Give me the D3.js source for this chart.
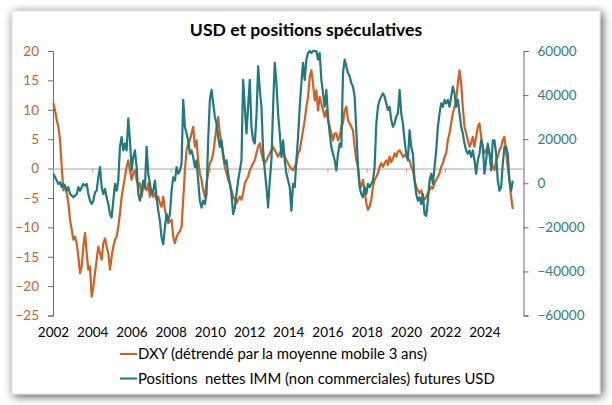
<!DOCTYPE html>
<html lang="fr">
<head>
<meta charset="UTF-8">
<title>USD et positions spéculatives</title>
<script src="https://d3js.org/d3.v7.min.js"></script>
<style>
  body { margin: 0; background: #fff; font-family: Lato, "Open Sans", sans-serif; }
  svg { display: block; }
  .legend text { white-space: pre; }
</style>
</head>
<body>
<svg id="chart" width="612" height="405"></svg>
<script>
// sampling grid of the series (about one point per month)
const startYear = 2002.02;
const stepYear = 0.0849;

// DXY detrended by its 3-year moving average (left axis)
const dxy = [
  11.1, 9.9, 8.2, 7.1, 4.8, 0.3, -3.7, -3.1, -4.2, -5.9,
  -8.7, -10.4, -12.1, -11.6, -12.7, -15.0, -17.8, -16.7, -13.3, -11.0,
  -14.4, -17.2, -16.7, -21.8, -20.1, -17.8, -15.5, -13.3, -14.4, -15.5,
  -12.7, -11.9, -13.3, -14.4, -17.2, -15.0, -13.3, -12.1, -11.6, -9.9,
  -7.6, -4.8, -3.1, -1.4, 0.3, 1.4, -0.3, -1.9, -0.8, -0.3,
  -1.9, -3.1, -2.5, -4.8, -3.1, -3.4, -3.7, -2.5, -4.8, -3.7,
  -4.8, -4.2, -5.3, -4.8, -5.9, -6.5, -4.8, -7.0, -8.2, -9.3,
  -9.0, -8.7, -11.6, -12.7, -11.6, -11.0, -10.7, -9.9, -5.3, -0.3,
  3.1, 4.3, 4.8, 6.0, 7.1, 3.7, 4.8, 1.4, -0.8,
  -1.9, -3.7, -4.8, -2.5, -0.8, 0.9, 1.4, 2.6, 4.8, 7.1,
  8.8, 6.0, 4.3, 2.0, 0.3, -0.8, -1.9, -2.5, -3.7, -4.8,
  -5.3, -5.9, -5.3, -4.8, -5.3, -4.2, -2.5, -1.9, -1.4, -0.3,
  0.3, 0.9, 1.4, 2.6, 3.7, 4.3, 2.6, 1.4, 0.9, 1.4,
  2.0, 2.6, 3.1, 3.7, 3.1, 2.6, 2.0, 2.6, 3.1, 2.6,
  2.0, 1.4, 0.9, 0.3, 0.0, -0.3, 0.3, 0.9, 2.6, 3.1,
  4.8, 6.5, 8.2, 10.5, 12.2, 15.6, 16.7, 14.5, 11.6, 13.3, 9.9,
  12.2, 11.1, 9.9, 8.8, 9.9, 8.2, 7.1, 6.0, 4.8, 6.0,
  6.0, 4.8, 5.4, 7.1, 7.7, 9.9, 10.5, 8.2, 7.7, 7.1,
  6.5, 3.7, 1.4, 0.3, -2.5, -3.1, -1.9, -3.7, -5.9, -7.0,
  -6.5, -5.3, -3.1, -1.9, -1.4, -0.8, 0.3, 0.9, 0.3, 0.9,
  1.4, 0.6, 2.0, 1.1, 1.7, 2.6, 2.0, 2.9, 3.1, 2.6,
  2.0, 2.3, 2.0, 1.7, 1.4, 0.3, -0.3, -1.9, -3.1, -3.7,
  -4.2, -3.7, -4.8, -5.3, -4.8, -4.2, -3.7, -3.1, -3.4, -2.5,
  -1.9, -1.4, -0.8, 0.3, 0.9, 2.0, 2.6, 4.8, 6.0, 7.7,
  9.4, 10.5, 11.6, 14.5, 16.7, 14.5, 10.5, 7.1, 6.0, 4.8,
  3.7, 4.3, 5.4, 3.7, 5.4, 7.1, 7.7, 5.4, 3.7, 2.6,
  3.1, 3.7, 2.6, 1.4, 0.3, -0.3, 1.4, 2.0, 3.1, 3.7,
  4.8, 5.4, 2.6, 0.3, -1.9, -4.8, -6.9
];

// IMM net non-commercial positions, USD futures (right axis)
const imm = [
  4300, 2700, 1200, -300, 500, -1800, -300, -1100, -3400, -1800,
  -4900, -5600, -6400, -5600, -4900, -1800, -3400, -1800, -300, -1100,
  -300, -4900, -7900, -9400, -7900, -4100, -3400, 2700, 7300, -1800,
  -4900, -2600, -6400, -9400, -14000, -15500, -7900, -300, -3400, 1200,
  16500, 21000, 14900, 18000, 14900, 29400, 19500, 5800, 11900, 14900,
  7300, -4900, -7900, -3400, 1200, -1800, 16500, 4300, -300, -4900,
  -3400, 1200, -6400, -12500, -17100, -24700, -27700, -20100, -14000, -17100,
  -14000, -3400, 2700, 1200, 7300, 4300, 5800, 8800, 37800, 25600,
  22600, 19500, 13400, 14900, 11900, 7300, 10400, 1200, -7900,
  -11000, -7900, -9400, -4900, 19500, 37800, 42400, 36300, 30200, 27100,
  21000, 16500, 19500, 13400, 8800, 10400, 4300, -300, -4900, -14000,
  -11000, -4900, 1200, 5800, 10400, 46900, 34700, 22600, 34700, 46900,
  25600, 19500, 18000, 30200, 53000, 42400, 34700, 14900, 5800, -1800,
  -11000, 1200, 10400, 34700, 54600, 45400, 31700, 22600, 11900, 19500,
  10400, 4300, 1200, -1800, -12500, -300, -1800, 10400, 21000, 34700,
  45400, 54600, 46900, 56100, 59100, 60000, 59100, 60000, 60000, 60000, 56100,
  59100, 46900, 40800, 34700, 42400, 30200, 22600, 16500, 13400, 10400,
  5800, 13400, 18000, 16500, 50000, 56100, 53000, 50000, 48500, 45400,
  43900, 39300, 24100, 7300, -1800, -4900, -6400, -1800, -4900, -300,
  -1800, -300, 1200, 7300, 27100, 34700, 37800, 39300, 40800, 39300,
  36300, 33200, 34700, 28700, 25600, 27100, 30200, 31700, 42400, 31700,
  27100, 19500, 13400, 10400, 24100, 16500, 13400, 1200, -4900, -7900,
  -6400, -9400, -4900, -14000, -14800, -7900, 1200, 4300, -300, 7300,
  14900, 25600, 31700, 36300, 34700, 37800, 36300, 37800, 34700, 39300,
  43900, 40800, 34700, 37800, 31700, 25600, 22600, 18000, 14900, 13400,
  14900, 11900, 14900, 10400, 4300, 10400, 13400, 19500, 16500, 4300,
  10400, 18000, 13400, 5800, 19500, 19500, 13400, 1200, -3400, -1800,
  8800, 16500, 16500, 13400, 1200, -3400, 1200
];

const xTicks = d3.range(2002, 2027, 2);          // 2002 ... 2026
const xLabels = d3.range(2002, 2025, 2);         // 2002 ... 2024
const leftTicks = [-25, -20, -15, -10, -5, 0, 5, 10, 15, 20];
const rightTicks = [-60000, -40000, -20000, 0, 20000, 40000, 60000];
const seriesNames = ["DXY (détrendé par la moyenne mobile 3 ans)",
                     "Positions  nettes IMM (non commerciales) futures USD"];

const orange = "#d2601f";
const teal = "#1c7a80";

const svg = d3.select("#chart");

// frame with shadow
const defs = svg.append("defs");
const f = defs.append("filter").attr("id", "shadow")
  .attr("x", "-5%").attr("y", "-5%").attr("width", "110%").attr("height", "110%");
f.append("feDropShadow").attr("dx", 2).attr("dy", 2)
  .attr("stdDeviation", 5).attr("flood-color", "#000").attr("flood-opacity", 0.7);

svg.append("rect").attr("x", 12).attr("y", 11).attr("width", 588).attr("height", 383)
  .attr("fill", "#fff").attr("stroke", "#d9d9d9").attr("stroke-width", 0.8)
  .attr("filter", "url(#shadow)");

// title
svg.append("text").attr("x", 306).attr("y", 36)
  .attr("text-anchor", "middle").attr("font-weight", "bold")
  .attr("font-size", 17.6).attr("fill", "#000")
  .text("USD et positions spéculatives");

// scales
const plotLeft = 53, plotRight = 523.5, plotTop = 51, plotBottom = 315.5;
const x = d3.scaleLinear().domain([2002, 2026]).range([plotLeft, plotRight]);
const yL = d3.scaleLinear().domain([-25, 20]).range([plotBottom, plotTop]);
const yR = d3.scaleLinear().domain([-60000, 60000]).range([plotBottom, plotTop]);

// left axis
const gl = svg.append("g").attr("transform", `translate(${plotLeft},0)`)
  .call(d3.axisLeft(yL).tickValues(leftTicks).tickSize(5).tickPadding(9).tickSizeOuter(5));
gl.selectAll("path, line").attr("stroke", "#6b6b6b");
gl.selectAll("text").attr("fill", "#c8632e").attr("font-size", 13.5)
  .attr("font-family", "Lato, sans-serif");

// right axis
const gr = svg.append("g").attr("transform", `translate(${plotRight},0)`)
  .call(d3.axisRight(yR).tickValues(rightTicks).tickSize(5).tickPadding(9).tickSizeOuter(5)
    .tickFormat(d3.format("d")));
gr.selectAll("path, line").attr("stroke", "#6b6b6b");
gr.selectAll("text").attr("fill", "#2a7f83").attr("font-size", 13.5)
  .attr("font-family", "Lato, sans-serif");

// horizontal axis line at zero with small ticks
const gz = svg.append("g").attr("transform", `translate(0,${yL(0)})`)
  .call(d3.axisBottom(x).tickValues(xTicks).tickSize(4).tickSizeOuter(0).tickFormat(""));
gz.selectAll("path, line").attr("stroke", "#a6a6a6");

// year labels at the bottom
const gx = svg.append("g").attr("transform", `translate(0,${plotBottom})`)
  .call(d3.axisBottom(x).tickValues(xLabels).tickSize(0).tickPadding(12).tickFormat(d3.format("d")));
gx.select(".domain").remove();
gx.selectAll("text").attr("fill", "#000").attr("font-size", 13.5)
  .attr("font-family", "Lato, sans-serif");

// lines
const t = i => startYear + i * stepYear;
const lineL = d3.line().x((d, i) => x(t(i))).y(d => yL(d));
const lineR = d3.line().x((d, i) => x(t(i))).y(d => yR(d));

svg.append("path").datum(dxy).attr("d", lineL)
  .attr("fill", "none").attr("stroke", orange).attr("stroke-width", 2.2)
  .attr("stroke-linejoin", "round");
svg.append("path").datum(imm).attr("d", lineR)
  .attr("fill", "none").attr("stroke", teal).attr("stroke-width", 2.2)
  .attr("stroke-linejoin", "round");

// legend
const legend = svg.append("g").attr("class", "legend").attr("transform", "translate(120,354)");
[orange, teal].forEach((c, i) => {
  const g = legend.append("g").attr("transform", `translate(0,${i * 24.5})`);
  g.append("line").attr("x1", 0).attr("x2", 17).attr("y1", 0).attr("y2", 0)
    .attr("stroke", c).attr("stroke-width", 2);
  g.append("text").attr("x", 18).attr("y", 5.2).attr("font-size", 14.9).attr("fill", "#000")
    .text(seriesNames[i]);
});
</script>
</body>
</html>
